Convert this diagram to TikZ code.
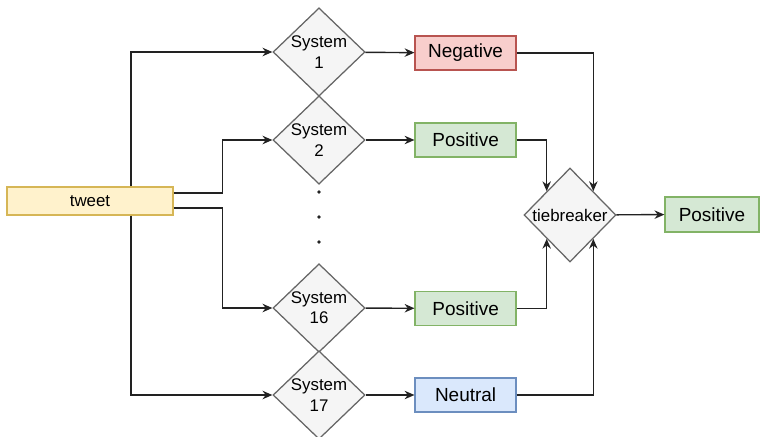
\documentclass[tikz,border=0pt]{standalone}
\usepackage{fontspec}
\setmainfont{Liberation Sans}
\usetikzlibrary{shapes.geometric,arrows.meta}

\definecolor{tweetfill}{HTML}{FFF2CC}
\definecolor{tweetline}{HTML}{D6B656}
\definecolor{negfill}{HTML}{F8CECC}
\definecolor{negline}{HTML}{B85450}
\definecolor{posfill}{HTML}{D5E8D4}
\definecolor{posline}{HTML}{82B366}
\definecolor{neufill}{HTML}{DAE8FC}
\definecolor{neuline}{HTML}{6C8EBF}
\definecolor{sysfill}{HTML}{F5F5F5}
\definecolor{sysline}{HTML}{666666}
\definecolor{linecol}{HTML}{222222}

\begin{document}
\begin{tikzpicture}[
	sysbox/.style={diamond, draw=sysline, fill=sysfill, line width=0.9pt, inner sep=0pt,
		minimum width=2.3cm, minimum height=2.2cm, align=center,
		font=\fontsize{12}{14.4}\selectfont},
	resbox/.style={rectangle, line width=0.9pt, minimum width=2.525cm, minimum height=0.85cm,
		font=\fontsize{13.5}{16}\selectfont},
	arr/.style={-{Stealth[length=7pt,width=6pt]}, line width=1pt, draw=linecol},
	]
	\useasboundingbox (0,0) rectangle (19.025,10.9);

	% Eingabe
	\node[rectangle, draw=tweetline, fill=tweetfill, line width=0.9pt, minimum width=4.15cm,
		minimum height=0.7cm, font=\fontsize{12}{14.4}\selectfont] (tweet) at (2.25,5.875) {tweet};

	% Systeme
	\node[sysbox] (sys1) at (7.975,9.6) {System\\1};
	\node[sysbox] (sys2) at (7.975,7.4) {System\\2};
	\node[sysbox] (sys16) at (7.975,3.2) {System\\16};
	\node[sysbox] (sys17) at (7.975,1.025) {System\\17};
	\fill[linecol] (7.975,6.1) circle (1.4pt);
	\fill[linecol] (7.975,5.475) circle (1.4pt);
	\fill[linecol] (7.975,4.85) circle (1.4pt);

	% Ergebnisse
	\node[resbox, draw=negline, fill=negfill] (neg) at (11.64,9.575) {Negative};
	\node[resbox, draw=posline, fill=posfill] (pos2) at (11.64,7.4) {Positive};
	\node[resbox, draw=posline, fill=posfill] (pos16) at (11.64,3.19) {Positive};
	\node[resbox, draw=neuline, fill=neufill] (neu) at (11.64,1.025) {Neutral};

	% tiebreaker
	\node[diamond, draw=sysline, fill=sysfill, line width=0.9pt, inner sep=0pt, minimum width=2.3cm,
		minimum height=2.35cm, font=\fontsize{12}{14.4}\selectfont] (tie) at (14.25,5.525) {tiebreaker};
	\node[resbox, draw=posline, fill=posfill, minimum width=2.35cm, minimum height=0.875cm] (final) at (17.8,5.54) {Positive};

	% Verbindungen
	\draw[arr] ([xshift=1.025cm]tweet.north) |- (sys1);
	\draw[arr] ([xshift=1.025cm]tweet.south) |- (sys17);
	\draw[arr] ([yshift=0.2cm]tweet.east) -- ++(1.225,0) |- (sys2);
	\draw[arr] ([yshift=-0.175cm]tweet.east) -- ++(1.225,0) |- (sys16);

	\draw[arr] (sys1) -- (neg);
	\draw[arr] (sys2) -- (pos2);
	\draw[arr] (sys16) -- (pos16);
	\draw[arr] (sys17) -- (neu);

	\draw[arr] (neg) -| (tie.north east);
	\draw[arr] (pos2) -| (tie.north west);
	\draw[arr] (pos16) -| (tie.south west);
	\draw[arr] (neu) -| (tie.south east);
	\draw[arr] (tie) -- (final);
\end{tikzpicture}
\end{document}
